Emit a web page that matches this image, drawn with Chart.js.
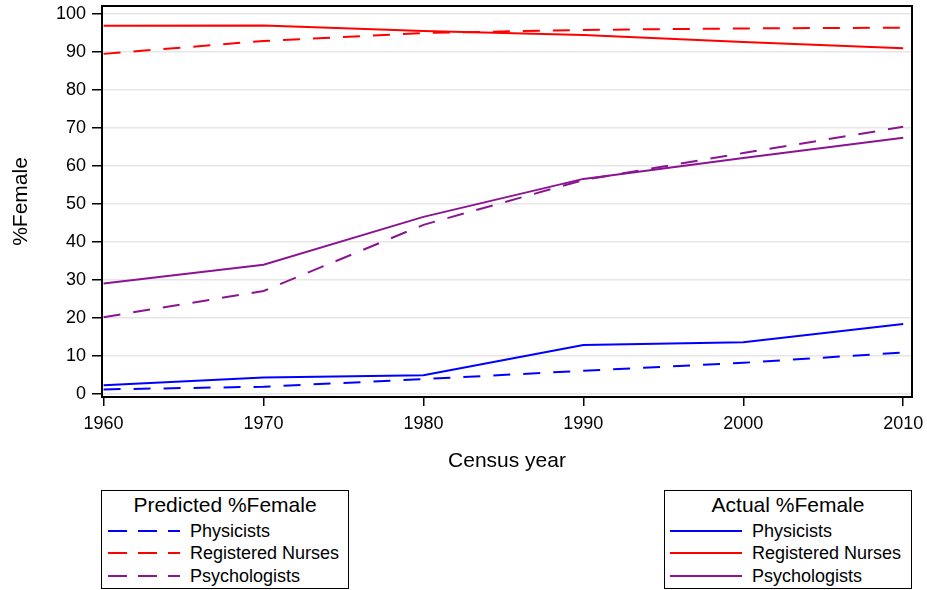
<!DOCTYPE html>
<html>
<head>
<meta charset="utf-8">
<script src="https://cdn.jsdelivr.net/npm/chart.js@4"></script>
<style>
  body { margin: 0; background: #fff; font-family: "Liberation Sans", Arial, sans-serif; }
  #wrap { position: relative; width: 927px; height: 590px; }
  .legend { position: absolute; top: 490px; width: 248px; height: 99px; border: 1.5px solid #000; box-sizing: border-box; background: #fff; color: #000; }
  .legend .title { position: absolute; left: 0; right: 0; top: 2px; text-align: center; font-size: 21px; line-height: 24px; }
  .legend .row { position: absolute; left: 0; right: 0; height: 22px; font-size: 18px; line-height: 22px; }
  .legend svg { position: absolute; top: 9px; }
  .legend .row span { position: absolute; top: 0; }
</style>
</head>
<body>
<div id="wrap">
  <canvas id="chart" width="927" height="590"></canvas>
  <div class="legend" id="legPred" style="left:101px;"></div>
  <div class="legend" id="legAct" style="left:664px;"></div>
</div>
<script>
const years = [1960, 1970, 1980, 1990, 2000, 2010];
const yTicks = [0, 10, 20, 30, 40, 50, 60, 70, 80, 90, 100];

const predPhysicists = [1.2, 1.9, 3.9, 6.1, 8.2, 10.9];
const predNurses = [89.5, 92.9, 95.0, 95.8, 96.2, 96.4];
const predPsychologists = [20.2, 27.1, 44.5, 56.3, 63.4, 70.3];

const actPhysicists = [2.3, 4.3, 4.9, 12.9, 13.6, 18.4];
const actNurses = [96.9, 97.0, 95.5, 94.5, 92.6, 91.0];
const actPsychologists = [29.1, 34.0, 46.6, 56.6, 62.1, 67.4];

const occupations = ['Physicists', 'Registered Nurses', 'Psychologists'];
const colors = ['#0000ff', '#ff0000', '#8b1591'];
const dash = [17, 13];

const pts = vals => vals.map((v, i) => ({x: years[i], y: v}));

function ds(label, vals, color, dashed) {
  return {
    label: label,
    data: pts(vals),
    borderColor: color,
    borderWidth: 2,
    borderDash: dashed ? dash : [],
    pointRadius: 0,
    tension: 0,
    fill: false
  };
}

// box round the plot area
const frame = {
  id: 'frame',
  afterDraw(chart) {
    const {ctx, chartArea: a} = chart;
    ctx.save();
    ctx.strokeStyle = '#000';
    ctx.lineWidth = 2;
    ctx.strokeRect(a.left, a.top, a.right - a.left, a.bottom - a.top);
    ctx.restore();
  }
};

const family = '"Liberation Sans", Arial, sans-serif';
const tickFont = {family: family, size: 18};

new Chart(document.getElementById('chart'), {
  type: 'line',
  data: {
    datasets: [
      ds('Predicted Physicists', predPhysicists, colors[0], true),
      ds('Predicted Registered Nurses', predNurses, colors[1], true),
      ds('Predicted Psychologists', predPsychologists, colors[2], true),
      ds('Actual Physicists', actPhysicists, colors[0], false),
      ds('Actual Registered Nurses', actNurses, colors[1], false),
      ds('Actual Psychologists', actPsychologists, colors[2], false)
    ]
  },
  options: {
    responsive: false,
    animation: false,
    layout: {padding: {left: 0, right: 15, top: 6, bottom: 113}},
    plugins: {legend: {display: false}, tooltip: {enabled: false}},
    scales: {
      x: {
        type: 'linear',
        min: 1959.9,
        max: 2010.55,
        afterBuildTicks: s => { s.ticks = years.map(v => ({value: v})); },
        afterFit: s => { s.height = 80; s.paddingLeft = 0; s.paddingRight = 0; },
        border: {display: false},
        grid: {drawOnChartArea: false, drawTicks: true, tickLength: 9, tickColor: '#000', lineWidth: 1.5},
        ticks: {color: '#000', font: tickFont, padding: 7, maxRotation: 0, callback: v => String(v)},
        title: {display: true, text: 'Census year', color: '#000', font: {family: family, size: 21}, padding: {top: 0, bottom: 3}}
      },
      y: {
        min: -0.8,
        max: 102.1,
        afterBuildTicks: s => { s.ticks = yTicks.map(v => ({value: v})); },
        afterFit: s => { s.width = 102; s.paddingTop = 0; s.paddingBottom = 0; },
        border: {display: false},
        grid: {color: '#e6e6e6', lineWidth: 1.5, tickColor: '#000', tickLength: 10, drawTicks: true},
        ticks: {color: '#000', font: tickFont, padding: 6},
        title: {display: true, text: '%Female', color: '#000', font: {family: family, size: 21}, padding: {top: 9, bottom: 0}}
      }
    }
  },
  plugins: [frame]
});

function buildLegend(id, title, dashed) {
  const el = document.getElementById(id);
  let html = '<div class="title">' + title + '</div>';
  const lineX = dashed ? 6 : 5;
  const textX = dashed ? 88 : 87;
  occupations.forEach((name, i) => {
    html += '<div class="row" style="top:' + (29 + i * 22.3) + 'px">' +
      '<svg width="76" height="4" style="left:' + lineX + 'px">' +
      '<line x1="0" y1="2" x2="72" y2="2" stroke="' + colors[i] + '" stroke-width="2"' +
      (dashed ? ' stroke-dasharray="19 11"' : '') + '/></svg>' +
      '<span style="left:' + textX + 'px">' + name + '</span></div>';
  });
  el.innerHTML = html;
}
buildLegend('legPred', 'Predicted %Female', true);
buildLegend('legAct', 'Actual %Female', false);
</script>
</body>
</html>
